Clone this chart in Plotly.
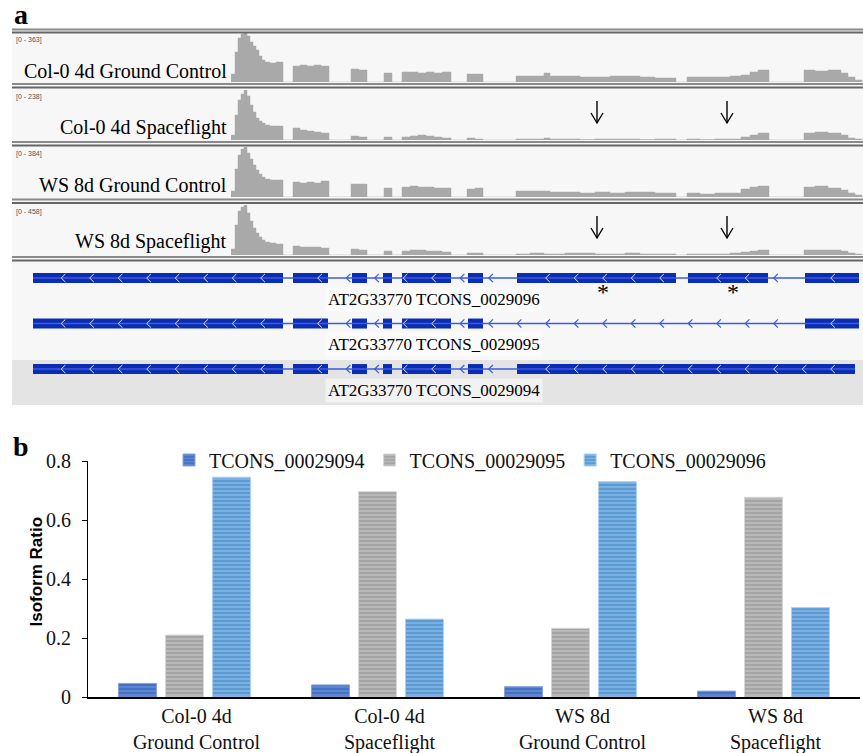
import numpy as np
import plotly.graph_objects as go

W, H = 863, 753
def fx(px): return px / W
def fy(px): return 1 - px / H

# ---------------- data: panel a ----------------
samples = ["Col-0 4d Ground Control", "Col-0 4d Spaceflight", "WS 8d Ground Control", "WS 8d Spaceflight"]
track_max = [363, 238, 384, 458]

# genomic positions (screen-aligned units) of coverage steps
cov_pos = [231, 235, 238, 241, 244, 247, 250, 253, 256, 259, 262, 265, 270, 276, 283,
           293, 300, 307, 314, 321, 329,
           351, 359, 367,
           384, 392,
           402, 410, 418, 426, 434, 442, 451,
           467, 475, 483,
           516, 530, 544, 550, 565, 580, 595, 610, 625, 640, 655, 676,
           687, 700, 715, 730, 741, 750, 758, 769,
           804, 815, 828, 841, 848, 855, 862]
# coverage as % of each track's data range
cov_col_gc = [16, 60, 88, 96, 100, 92, 80, 72, 64, 52, 44, 40, 38, 40, 0,
              32, 34, 32, 34, 32, 0,
              26, 24, 0,
              18, 0,
              20, 20, 18, 20, 18, 20, 0,
              16, 16, 0,
              12, 12, 18, 12, 12, 10, 10, 12, 12, 10, 8, 0,
              10, 10, 10, 12, 14, 20, 24, 0,
              24, 22, 24, 18, 10, 4, 0]
cov_col_sf = [10, 50, 80, 92, 100, 88, 70, 56, 44, 38, 34, 30, 28, 28, 0,
              24, 20, 18, 16, 14, 0,
              8, 6, 0,
              6, 0,
              6, 8, 10, 8, 6, 4, 0,
              4, 2, 0,
              2, 2, 4, 2, 2, 1, 2, 2, 2, 1, 2, 0,
              2, 1, 2, 2, 6, 10, 14, 0,
              14, 16, 14, 10, 4, 2, 0]
cov_ws_gc = [12, 56, 84, 96, 100, 88, 76, 64, 54, 46, 40, 36, 34, 34, 0,
             30, 28, 30, 28, 32, 0,
             26, 26, 0,
             18, 0,
             20, 22, 20, 20, 18, 18, 0,
             16, 18, 0,
             12, 12, 12, 10, 10, 8, 10, 8, 10, 10, 8, 0,
             8, 6, 8, 8, 16, 20, 22, 0,
             20, 22, 18, 14, 8, 4, 0]
cov_ws_sf = [12, 60, 88, 96, 100, 84, 68, 54, 44, 36, 30, 26, 24, 22, 0,
             18, 16, 16, 16, 14, 0,
             12, 10, 0,
             8, 0,
             8, 10, 10, 8, 8, 6, 0,
             4, 4, 0,
             2, 4, 2, 2, 4, 4, 2, 2, 4, 2, 2, 0,
             2, 2, 2, 4, 6, 8, 10, 0,
             10, 10, 10, 8, 4, 2, 0]
coverages = [cov_col_gc, cov_col_sf, cov_ws_gc, cov_ws_sf]

transcripts = ["AT2G33770 TCONS_0029096", "AT2G33770 TCONS_0029095", "AT2G33770 TCONS_0029094"]
exons_096 = [(33, 283), (293, 328), (352, 367), (383, 392), (402, 451), (468, 483), (517, 676), (688, 768), (805, 859)]
exons_095 = [(33, 283), (293, 328), (352, 367), (383, 392), (402, 451), (468, 483), (805, 859)]
exons_094 = [(33, 283), (293, 328), (352, 367), (383, 392), (402, 451), (468, 483), (517, 855)]
gene_models = [exons_096, exons_095, exons_094]
star_pos = [603, 733]
arrow_pos = [597, 727]
arrow_tracks = [1, 3]  # spaceflight tracks

# ---------------- data: panel b ----------------
conditions = ["Col-0 4d<br>Ground Control", "Col-0 4d<br>Spaceflight",
              "WS 8d<br>Ground Control", "WS 8d<br>Spaceflight"]
isoforms = ["TCONS_00029094", "TCONS_00029095", "TCONS_00029096"]
ratio_094 = [0.046, 0.041, 0.035, 0.020]
ratio_095 = [0.210, 0.696, 0.233, 0.677]
ratio_096 = [0.745, 0.264, 0.730, 0.303]
y_ticks = [0, 0.2, 0.4, 0.6, 0.8]

# ---------------- styling ----------------
SERIF = "Liberation Serif"
SANS = "Liberation Sans"
COV = "#a9a9a9"
EXON = "#0a2db4"
INTRON = "#3b5be0"

track_px = [(32, 82), (90, 140), (147, 197), (205, 255)]  # top, baseline
gene_px = (258, 405)
row_range = [2.79, -0.44]

fig = go.Figure()

# coverage tracks
for i, cov in enumerate(coverages):
    ya = "y" if i == 0 else f"y{i+1}"
    fig.add_trace(go.Scatter(x=cov_pos, y=cov, xaxis="x", yaxis=ya, mode="lines",
                             line=dict(shape="hv", width=0.5, color=COV),
                             fill="tozeroy", fillcolor=COV, showlegend=False, hoverinfo="skip"))

# down arrows on spaceflight tracks
for ti in arrow_tracks:
    ax_x, ax_y = [], []
    for p in arrow_pos:
        ax_x += [p, p, None, p - 6, p, p + 6, None]
        ax_y += [78, 34, None, 54, 34, 54, None]
    fig.add_trace(go.Scatter(x=ax_x, y=ax_y, xaxis="x", yaxis=f"y{ti+1}", mode="lines",
                             line=dict(color="black", width=1.4), showlegend=False, hoverinfo="skip"))

# gene models
intr_x, intr_y = [], []
for r, ex in enumerate(gene_models):
    intr_x += [ex[0][0], ex[-1][1], None]
    intr_y += [r, r, None]
fig.add_trace(go.Scatter(x=intr_x, y=intr_y, xaxis="x", yaxis="y5", mode="lines",
                         line=dict(color=INTRON, width=1.4), showlegend=False, hoverinfo="skip"))
bx, bb, by = [], [], []
for r, ex in enumerate(gene_models):
    for a, b in ex:
        bx.append(b - a); bb.append(a); by.append(r)
fig.add_trace(go.Bar(x=bx, base=bb, y=by, orientation="h", xaxis="x", yaxis="y5",
                     width=0.22, marker=dict(color=EXON, line=dict(width=0)),
                     showlegend=False, hoverinfo="skip"))

# strand chevrons
chev_grid = np.arange(63, 860, 28.5)
ex_x, ex_y, in_x, in_y = [], [], [], []
for r, ex in enumerate(gene_models):
    start, end = ex[0][0], ex[-1][1]
    bounds = [v for e in ex for v in e]
    for p in chev_grid:
        if p < start + 3 or p > end - 3:
            continue
        if min(abs(p - v) for v in bounds) < 3:
            continue
        xs = [p + 2.4, p - 1.8, p + 2.4, None]
        ys = [r - 0.09, r, r + 0.09, None]
        if any(a <= p <= b for a, b in ex):
            ex_x += xs; ex_y += ys
        else:
            in_x += xs; in_y += ys
fig.add_trace(go.Scatter(x=ex_x, y=ex_y, xaxis="x", yaxis="y5", mode="lines",
                         line=dict(color="#dfe5ff", width=1), showlegend=False, hoverinfo="skip"))
fig.add_trace(go.Scatter(x=in_x, y=in_y, xaxis="x", yaxis="y5", mode="lines",
                         line=dict(color=INTRON, width=1.2), showlegend=False, hoverinfo="skip"))

# stars
fig.add_trace(go.Scatter(x=star_pos, y=[0.36] * len(star_pos), xaxis="x", yaxis="y5", mode="text",
                         text=["*"] * len(star_pos), textfont=dict(family=SERIF, size=24, color="black"),
                         showlegend=False, hoverinfo="skip"))

# ---------------- panel b bars ----------------
bar_style = [("#4472c4", "#86a3dd"), ("#a5a5a5", "#d6d6d6"), ("#5b9bd5", "#aed0ef")]
for name, vals, (c, s) in zip(isoforms, [ratio_094, ratio_095, ratio_096], bar_style):
    fig.add_trace(go.Bar(x=conditions, y=vals, name=name, xaxis="x2", yaxis="y6",
                         marker=dict(color=c, line=dict(color=s, width=1),
                                     pattern=dict(shape="-", fgcolor=s, size=4, solidity=0.4,
                                                  fillmode="overlay"))))

# ---------------- layout ----------------
layout = dict(
    template="none",
    width=W, height=H, margin=dict(l=0, r=0, t=0, b=0, autoexpand=False),
    paper_bgcolor="white", plot_bgcolor="rgba(0,0,0,0)",
    barmode="group", bargap=0.27, bargroupgap=0.19,
    showlegend=True,
    legend=dict(orientation="h", x=fx(470), xanchor="center", y=fy(460), yanchor="middle",
                font=dict(family=SERIF, size=20, color="#111"), bgcolor="rgba(0,0,0,0)",
                itemwidth=30, traceorder="normal"),
    xaxis=dict(domain=[0, 1], range=[0, W], visible=False, anchor="y", fixedrange=True,
               automargin=False),
    xaxis2=dict(domain=[fx(88), fx(860)], anchor="y6", range=[-0.5, 3.5], automargin=False,
                showline=True, linecolor="black", linewidth=1.5, ticks="", showgrid=False,
                tickfont=dict(family=SERIF, size=20, color="#111"), ticklabelshift=12,
                zeroline=False),
    yaxis6=dict(domain=[fy(697), fy(461)], anchor="x2", range=[0, 0.8], tickvals=y_ticks,
                ticktext=["0", "0.2", "0.4", "0.6", "0.8"], automargin=False,
                showline=True, linecolor="black", linewidth=1, ticks="outside", ticklen=5,
                tickcolor="black", showgrid=False, zeroline=False, ticklabelstandoff=7,
                tickfont=dict(family=SERIF, size=20, color="#111")),
    yaxis5=dict(domain=[fy(gene_px[1]), fy(gene_px[0])], range=row_range, visible=False,
                anchor="x", fixedrange=True, automargin=False),
)
for i, (top, base) in enumerate(track_px):
    key = "yaxis" if i == 0 else f"yaxis{i+1}"
    layout[key] = dict(domain=[fy(base), fy(top)], range=[0, 100], visible=False, anchor="x",
                       fixedrange=True, automargin=False)
fig.update_layout(**layout)

shapes = []
# panel a background
shapes.append(dict(type="rect", xref="paper", yref="paper", x0=fx(12), x1=1, y0=fy(405), y1=fy(28),
                   fillcolor="#f7f7f7", line=dict(width=0), layer="below"))
shapes.append(dict(type="rect", xref="paper", yref="paper", x0=fx(12), x1=1, y0=fy(405), y1=fy(360),
                   fillcolor="#e4e4e4", line=dict(width=0), layer="below"))
for y1, y2 in [(29.5, 32.5), (84, 87.5), (142, 145.5), (199.5, 203), (257, 260.5)]:
    shapes.append(dict(type="line", xref="paper", yref="paper", x0=fx(12), x1=1, y0=fy(y1), y1=fy(y1),
                       line=dict(color="#8a8a8a", width=2)))
    shapes.append(dict(type="line", xref="paper", yref="paper", x0=fx(12), x1=1, y0=fy(y2), y1=fy(y2),
                       line=dict(color="#666666", width=2)))
fig.update_layout(shapes=shapes)

ann = []
ann.append(dict(text="<b>a</b>", x=fx(12), y=fy(15), xref="paper", yref="paper", xanchor="left",
                yanchor="middle", showarrow=False, font=dict(family=SERIF, size=28, color="black")))
ann.append(dict(text="<b>b</b>", x=fx(11), y=fy(446), xref="paper", yref="paper", xanchor="left",
                yanchor="middle", showarrow=False, font=dict(family=SERIF, size=28, color="black")))
label_y = [71, 128, 185, 242]
range_y = [40, 97, 154, 212]
for i, name in enumerate(samples):
    ann.append(dict(text=name, x=fx(229), y=fy(label_y[i]), xref="paper", yref="paper", xanchor="right",
                    yanchor="middle", showarrow=False, font=dict(family=SERIF, size=20, color="black")))
    ann.append(dict(text=f"[0 - {track_max[i]}]", x=fx(14), y=fy(range_y[i]), xref="paper", yref="paper",
                    xanchor="left", yanchor="middle", showarrow=False,
                    font=dict(family=SANS, size=7, color="#555")))
for r, t in enumerate(transcripts):
    ann.append(dict(text=t, x=434, y=r + 0.47, xref="x", yref="y5", xanchor="center", yanchor="middle",
                    showarrow=False, font=dict(family=SERIF, size=17, color="black"),
                    bgcolor="#f2f2f2" if r == 2 else "#fbfbfb", borderpad=2))
ann.append(dict(text="<b>Isoform Ratio</b>", x=fx(35.5), y=fy(572), xref="paper", yref="paper",
                textangle=-90, xanchor="center", yanchor="middle", showarrow=False,
                font=dict(family=SANS, size=17, color="black")))
fig.update_layout(annotations=ann)

page_fix = ("document.body.style.margin='0';document.body.style.overflow='hidden';"
            "var d=document.getElementById('{plot_id}');d.style.position='absolute';"
            "d.style.top='0px';d.style.left='0px';")
fig.write_html("out.html", post_script=page_fix, config={"displayModeBar": False})
